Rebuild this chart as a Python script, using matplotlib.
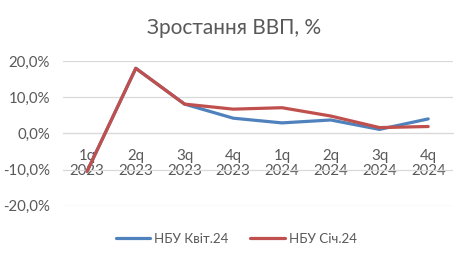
import matplotlib
matplotlib.use("Agg")
import matplotlib.pyplot as plt
from matplotlib.ticker import FuncFormatter

quarters = ["1q\n2023", "2q\n2023", "3q\n2023", "4q\n2023",
            "1q\n2024", "2q\n2024", "3q\n2024", "4q\n2024"]
nbu_apr24 = [-10.5, 18.0, 8.1, 4.2, 2.9, 3.7, 1.1, 4.0]
nbu_jan24 = [-10.5, 18.0, 8.1, 6.7, 7.1, 4.8, 1.6, 1.9]
series_names = ["НБУ Квіт.24", "НБУ Січ.24"]

text_col = "#595959"
grid_col = "#D9D9D9"

plt.rcParams['font.family'] = ['Lato', 'DejaVu Sans']

fig = plt.figure(figsize=(4.68, 2.61), dpi=100, facecolor='white')
ax = fig.add_axes([0.134, 0.212, 0.833, 0.554])

x = range(len(quarters))
ax.plot(x, nbu_apr24, color="#4F81BD", lw=2.3, label=series_names[0], solid_capstyle='round', zorder=3)
ax.plot(x, nbu_jan24, color="#C0504D", lw=2.3, label=series_names[1], solid_capstyle='round', zorder=3)

ax.set_xlim(-0.5, len(quarters) - 0.5)
ax.set_ylim(-20, 20)
ax.set_yticks([-20, -10, 0, 10, 20])
ax.yaxis.set_major_formatter(FuncFormatter(lambda v, p: f"{v:.1f}%".replace(".", ",")))
ax.grid(axis='y', color=grid_col, lw=0.9, zorder=0)

ax.set_xticks(list(x))
ax.set_xticklabels(quarters)
ax.spines['bottom'].set_position(('data', 0))
ax.spines['bottom'].set_color(grid_col)
for s in ['top', 'left', 'right']:
    ax.spines[s].set_visible(False)
ax.tick_params(axis='x', length=0, pad=11, labelsize=10.8, labelcolor=text_col)
ax.tick_params(axis='y', length=0, pad=9, labelsize=10.8, labelcolor=text_col)
for lbl in ax.get_xticklabels():
    lbl.set_linespacing(1.15)

fig.text(0.5, 1 - 28 / 261, "Зростання ВВП, %", ha='center', va='center',
         fontsize=15, color=text_col)

fig.legend(loc='center', bbox_to_anchor=(0.505, 1 - 239 / 261), ncol=2,
           frameon=False, fontsize=9.6, handlelength=2.6, columnspacing=1.6,
           handletextpad=0.3, labelcolor=text_col)

fig.savefig("out.png", dpi=100, facecolor='white')
